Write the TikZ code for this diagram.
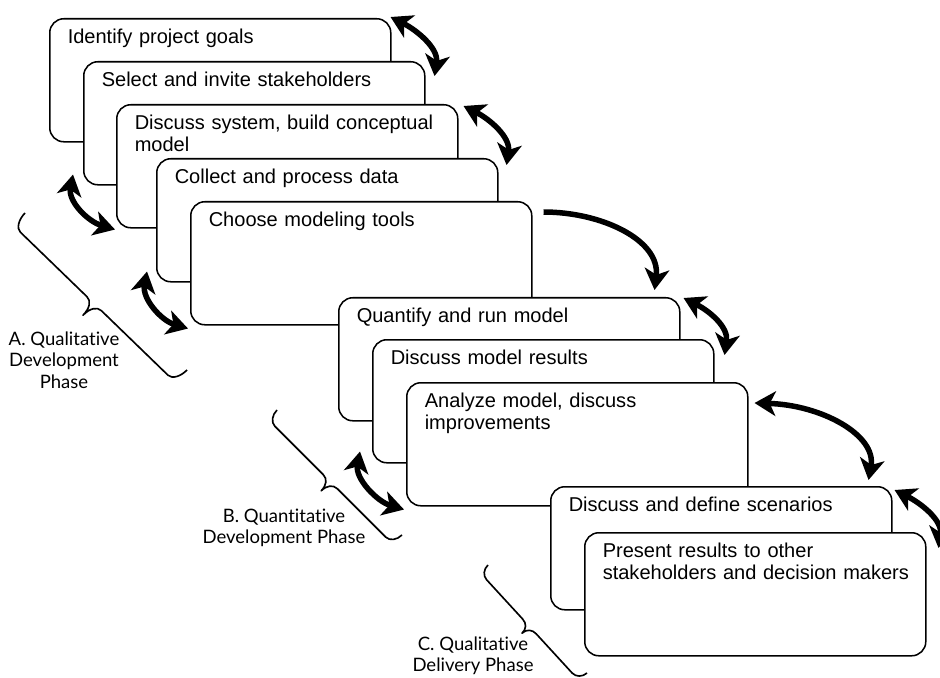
\documentclass[tikz,border=0pt]{standalone}
\usepackage{fontspec}
\setmainfont{Liberation Sans}
\newfontfamily\phasefont[Ligatures=NoCommon]{Lato}
\usepackage{tikz}
\usetikzlibrary{arrows.meta}

\begin{document}
\begin{tikzpicture}[
  x=0.03cm, y=-0.03cm,
  stage/.style={rectangle, rounded corners=0.42cm, draw, line width=1.3pt, fill=white, anchor=north west, align=left, text width=9.15cm, inner xsep=0.54cm, inner ysep=0pt, text height=0.732cm, text depth=2.958cm, font=\fontsize{17.1}{18.8}\selectfont},
  phase/.style={align=center, font=\phasefont\fontsize{15.8}{18.2}\selectfont},
  bracepath/.style n args={3}{insert path={(0,0) .. controls (0,0.55*#2) and (4.5,#2) .. (10,#2) -- ({#1/2-10},#2) .. controls ({#1/2-4},#2) and ({#1/2},{#2+0.4*(#3-#2)}) .. ({#1/2},#3) .. controls ({#1/2},{#2+0.4*(#3-#2)}) and ({#1/2+4},#2) .. ({#1/2+10},#2) -- ({#1-10},#2) .. controls ({#1-4.5},#2) and (#1,0.55*#2) .. (#1,0)}},
  phasebrace/.style={line width=1.4pt, line join=round},
  arr/.style={{Stealth[length=18pt, width=21pt, inset=5pt]}-{Stealth[length=18pt, width=21pt, inset=5pt]}, line width=4.7pt},
  arrone/.style={-{Stealth[length=18pt, width=21pt, inset=5pt]}, line width=4.7pt}
]
  \useasboundingbox (0,0) rectangle (940,678);

  \node[stage] (goals) at (49,18) {Identify project goals};
  \node[stage] (invite) at (83,61) {Select and invite stakeholders};
  \node[stage] (concept) at (116,104) {Discuss system, build conceptual\\model};
  \node[stage] (data) at (156,158) {Collect and process data};
  \node[stage] (tools) at (190,201) {Choose modeling tools};
  \node[stage] (run) at (338,297) {Quantify and run model};
  \node[stage] (results) at (372,339) {Discuss model results};
  \node[stage] (analyze) at (406,382) {Analyze model, discuss\\improvements};
  \node[stage] (scen) at (550,486) {Discuss and define scenarios};
  \node[stage] (present) at (584,532) {Present results to other\\\mbox{stakeholders and decision makers}};

  % feedback loops
  \draw[arr] ([shift={(-1,-1)}]goals.north east) .. controls +(26,13) and +(4,-28) .. ([shift={(9,15)}]invite.north east);
  \draw[arr] ([shift={(5,2)}]concept.north east) .. controls +(26,13) and +(4,-28) .. ([shift={(8,7)}]data.north east);
  \draw[arr] ([shift={(-10,-11)}]invite.south west) .. controls +(-5,27) and +(-27,-8) .. ([shift={(-1,1)}]concept.south west);
  \draw[arr] ([shift={(-9,-11)}]data.south west) .. controls +(-5,27) and +(-27,-8) .. ([shift={(-2,3)}]tools.south west);
  \draw[arrone] ([shift={(11,11)}]tools.north east) .. controls +(58,0) and +(6,-50) .. ([shift={(-26,-7)}]run.north east);
  \draw[arr] ([shift={(3,1)}]run.north east) .. controls +(26,13) and +(4,-28) .. ([shift={(10,16)}]results.north east);
  \draw[arr] ([shift={(-12,-12)}]results.south west) .. controls +(-5,27) and +(-27,-8) .. ([shift={(-2,3)}]analyze.south west);
  \draw[arr] ([shift={(6,21)}]analyze.north east) .. controls +(67,2) and +(8,-45) .. ([shift={(-24,-6)}]scen.north east);
  \draw[arr] ([shift={(2,4)}]scen.north east) .. controls +(26,13) and +(4,-28) .. ([shift={(12,16)}]present.north east);

  % phases
  \draw[phasebrace, shift={(25,213)}, x={(0.02154cm,-0.02088cm)}, y={(-0.02088cm,-0.02154cm)}] [bracepath={225.6}{17}{33}];
  \node[phase] (phaseA) at (64,360) {A. Qualitative\\Development\\Phase};
  \draw[phasebrace, shift={(277,410)}, x={(0.02121cm,-0.02121cm)}, y={(-0.02121cm,-0.02121cm)}] [bracepath={176.8}{13}{26}];
  \node[phase] (phaseB) at (284,528) {B. Quantitative\\Development Phase};
  \draw[phasebrace, shift={(488,565)}, x={(0.02028cm,-0.02211cm)}, y={(-0.02211cm,-0.02028cm)}] [bracepath={146.5}{11}{21}];
  \node[phase] (phaseC) at (473,656) {C. Qualitative\\Delivery Phase};
\end{tikzpicture}
\end{document}
